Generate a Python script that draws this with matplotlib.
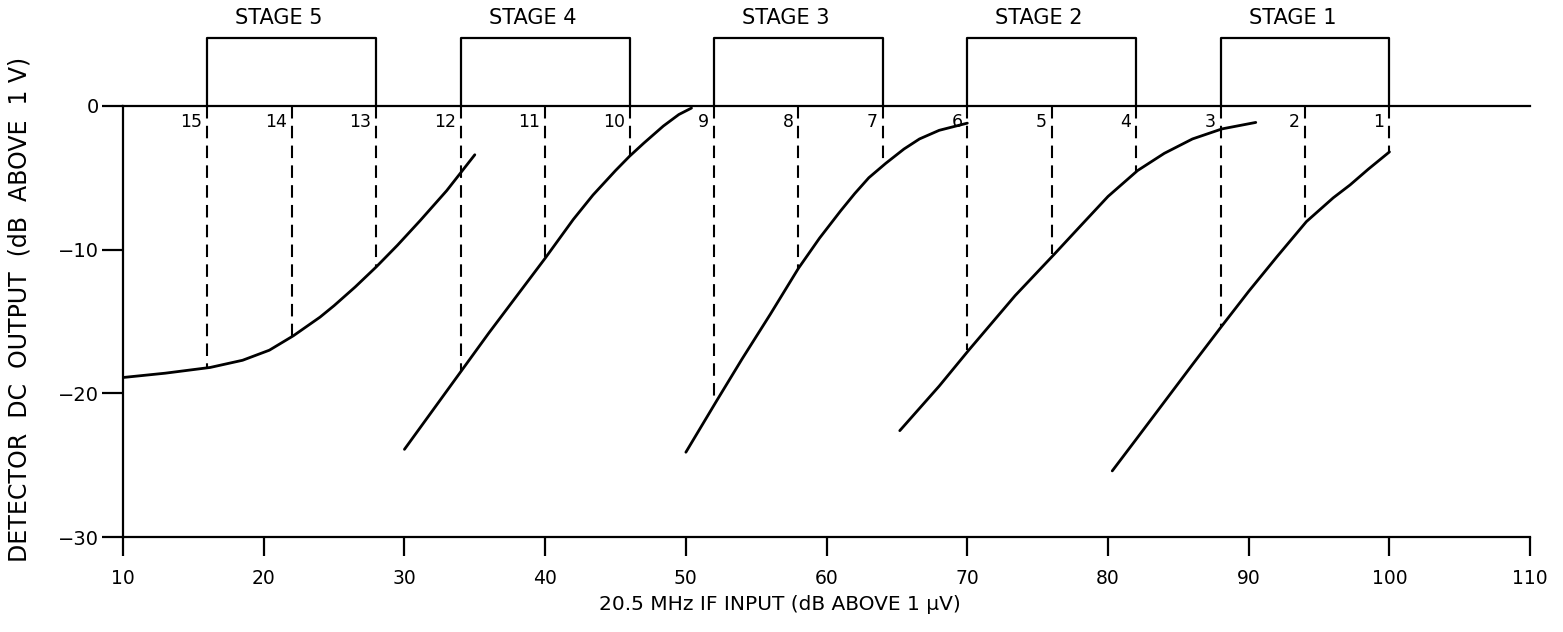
import numpy as np
import matplotlib
matplotlib.use("Agg")
import matplotlib.pyplot as plt

# curves (x = IF input dB, y = detector output dB)
c1_x = [10, 13, 16.2, 18.5, 20.4, 22.1, 24, 25, 26.5, 28, 29.5, 31.1, 33, 34.2, 35]
c1_y = [-18.9, -18.6, -18.2, -17.7, -17.0, -16.0, -14.7, -13.9, -12.6, -11.2, -9.7, -8.0, -5.9, -4.4, -3.4]

c2_x = [30, 32, 34, 36, 38, 40, 42, 43.4, 45, 46, 47, 48.4, 49.5, 50.4]
c2_y = [-23.9, -21.2, -18.5, -15.8, -13.2, -10.6, -7.9, -6.2, -4.5, -3.5, -2.6, -1.4, -0.6, -0.15]

c3_x = [50, 52.2, 54, 56, 58, 59.5, 61, 62, 63, 64.2, 65.5, 66.6, 68, 70]
c3_y = [-24.1, -20.5, -17.6, -14.5, -11.3, -9.2, -7.3, -6.1, -5.0, -4.0, -3.0, -2.3, -1.7, -1.2]

c4_x = [65.2, 68, 70.1, 73.4, 76.2, 78, 80, 82.1, 84, 86, 88.1, 90.5]
c4_y = [-22.6, -19.5, -17.0, -13.2, -10.3, -8.4, -6.3, -4.5, -3.3, -2.3, -1.6, -1.15]

c5_x = [80.3, 82, 84, 86, 88.1, 90, 92, 94.1, 96, 97.2, 98.5, 100]
c5_y = [-25.4, -23.2, -20.6, -18.0, -15.3, -12.9, -10.5, -8.05, -6.4, -5.5, -4.4, -3.2]

# switching points 15..1 and where the dashed drop lines meet a curve
pt_labels = ['15', '14', '13', '12', '11', '10', '9', '8', '7', '6', '5', '4', '3', '2', '1']
pt_x = [16, 22, 28, 34, 40, 46, 52, 58, 64, 70, 76, 82, 88, 94, 100]
pt_bottom = [-18.2, -16.0, -11.2, -18.5, -10.6, -3.5, -20.5, -11.3, -4.0,
             -17.0, -10.3, -4.5, -15.3, -8.05, -3.2]

stages = ['STAGE 5', 'STAGE 4', 'STAGE 3', 'STAGE 2', 'STAGE 1']
stage_start = [16, 34, 52, 70, 88]
stage_end = [28, 46, 64, 82, 100]

xticks = [10, 20, 30, 40, 50, 60, 70, 80, 90, 100, 110]
yticks = [0, -10, -20, -30]

fig = plt.figure(figsize=(15.63, 6.32), dpi=100)
ax = fig.add_axes([0.0787, 0.1503, 0.9003, 0.8413])
ax.set_xlim(10, 110)
ax.set_ylim(-30, 7)

lw = 1.6
for cx, cy in [(c1_x, c1_y), (c2_x, c2_y), (c3_x, c3_y), (c4_x, c4_y), (c5_x, c5_y)]:
    ax.plot(cx, cy, color='black', lw=2.0, solid_capstyle='round', solid_joinstyle='round')

# zero line
ax.plot([10, 110], [0, 0], color='black', lw=lw, clip_on=False)

for lab, x, yb in zip(pt_labels, pt_x, pt_bottom):
    ax.plot([x, x], [0, yb], color='black', lw=1.5, dashes=(6, 3.5))
    ax.text(x - 0.35, -1.15, lab, ha='right', va='center', fontsize=12.5)

brk = 4.7
for name, x0, x1 in zip(stages, stage_start, stage_end):
    ax.plot([x0, x0, x1, x1], [0, brk, brk, 0], color='black', lw=lw, clip_on=False)
    ax.text((x0 + x1) / 2 - 0.9, 6.1, name, ha='center', va='center', fontsize=15)

for s in ['top', 'right']:
    ax.spines[s].set_visible(False)
ax.spines['left'].set_bounds(-30, 0)
ax.spines['left'].set_linewidth(lw)
ax.spines['bottom'].set_linewidth(lw)

ax.set_xticks(xticks)
ax.set_yticks(yticks)
ax.set_yticklabels(['0', '\u221210', '\u221220', '\u221230'])
ax.tick_params(axis='x', direction='out', length=14, width=lw, pad=9, labelsize=13.5)
ax.tick_params(axis='y', direction='out', length=15, width=lw, pad=2, labelsize=14)

fig.text(0.499, 0.043, '20.5 MHz IF INPUT (dB ABOVE 1 \u03bcV)', ha='center', va='center', fontsize=14.5)
fig.text(0.0125, 0.51, 'DETECTOR  DC  OUTPUT  (dB  ABOVE  1 V)', ha='center', va='center',
         rotation=90, fontsize=17)

fig.savefig('out.png', dpi=100)
